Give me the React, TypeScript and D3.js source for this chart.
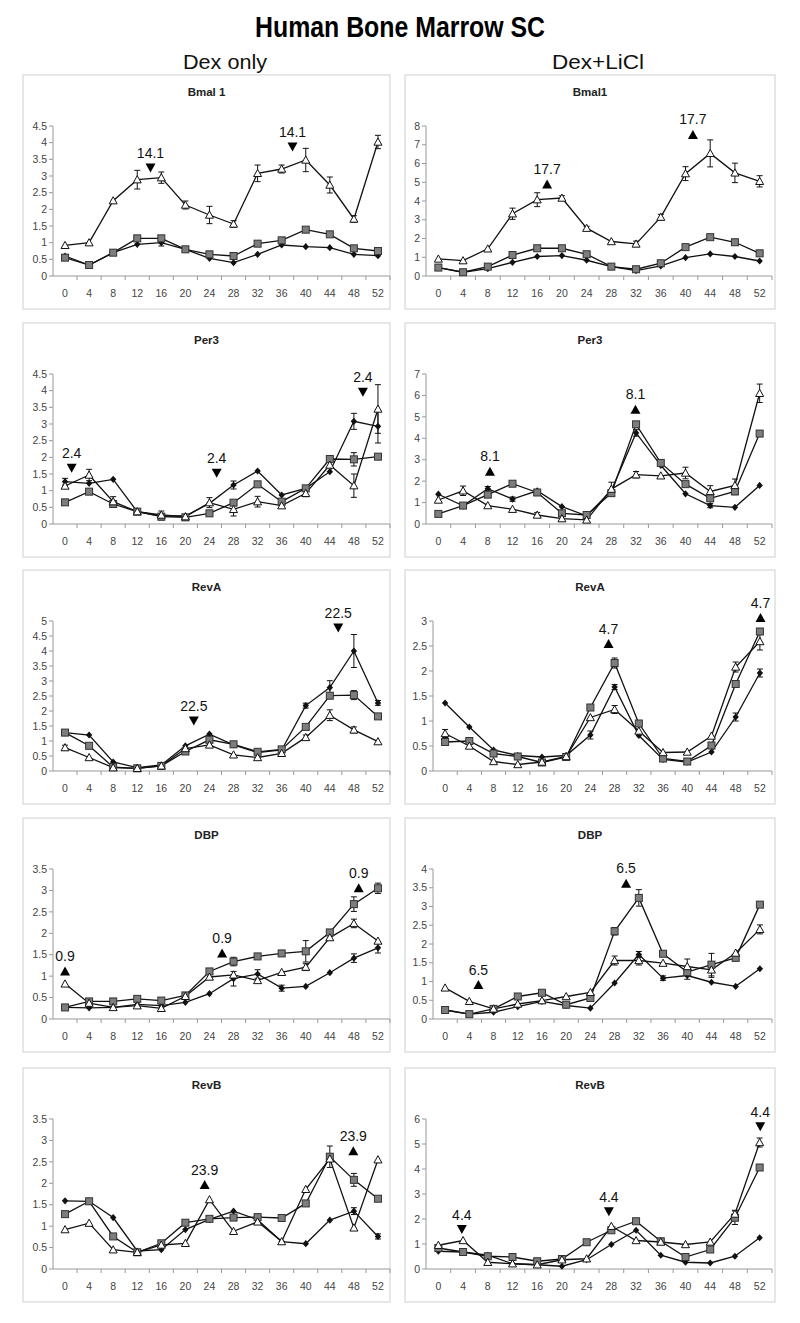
import React from "react"
import * as d3 from "d3"

const hours = [0, 4, 8, 12, 16, 20, 24, 28, 32, 36, 40, 44, 48, 52]

// Bmal1, Dex only
const bmalDexDiamond = [0.6, 0.33, 0.7, 0.95, 1.0, 0.8, 0.53, 0.4, 0.65, 0.93, 0.88, 0.85, 0.65, 0.61]
const bmalDexDiamondErr = [0, 0, 0, 0, 0.1, 0, 0, 0, 0, 0, 0, 0, 0, 0]
const bmalDexSquare = [0.55, 0.33, 0.7, 1.13, 1.13, 0.8, 0.65, 0.6, 0.97, 1.07, 1.39, 1.25, 0.83, 0.75]
const bmalDexSquareErr = [0, 0, 0, 0, 0, 0, 0, 0, 0, 0, 0, 0, 0, 0]
const bmalDexTriangle = [0.92, 1.0, 2.26, 2.89, 2.95, 2.13, 1.83, 1.56, 3.08, 3.21, 3.48, 2.73, 1.71, 4.02]
const bmalDexTriangleErr = [0, 0, 0, 0.28, 0.17, 0.12, 0.26, 0.1, 0.25, 0.12, 0.35, 0.24, 0.1, 0.2]
const bmalDexMarks = [
  { h: 14.2, v: 3.24, label: "14.1", dir: "down" },
  { h: 37.8, v: 3.87, label: "14.1", dir: "down" },
]

// Bmal1, Dex+LiCl
const bmalLiDiamond = [0.45, 0.2, 0.39, 0.73, 1.04, 1.09, 0.84, 0.5, 0.29, 0.54, 0.98, 1.18, 1.04, 0.8]
const bmalLiDiamondErr = [0, 0, 0, 0, 0, 0, 0, 0, 0, 0, 0, 0, 0, 0]
const bmalLiSquare = [0.45, 0.2, 0.5, 1.12, 1.48, 1.48, 1.16, 0.5, 0.36, 0.68, 1.54, 2.07, 1.8, 1.21]
const bmalLiSquareErr = [0, 0, 0, 0, 0, 0, 0, 0, 0, 0, 0, 0, 0, 0]
const bmalLiTriangle = [0.91, 0.82, 1.45, 3.32, 4.07, 4.16, 2.55, 1.84, 1.71, 3.14, 5.46, 6.54, 5.5, 5.05]
const bmalLiTriangleErr = [0, 0, 0, 0.3, 0.37, 0.12, 0.1, 0, 0.15, 0.15, 0.37, 0.72, 0.52, 0.3]
const bmalLiMarks = [
  { h: 17.6, v: 4.91, label: "17.7", dir: "up" },
  { h: 41.2, v: 7.55, label: "17.7", dir: "up" },
]

// Per3, Dex only
const per3DexDiamond = [1.27, 1.22, 1.34, 0.37, 0.24, 0.24, 0.62, 1.17, 1.59, 0.87, 1.07, 1.57, 3.08, 2.93]
const per3DexDiamondErr = [0.1, 0, 0, 0, 0, 0, 0, 0.12, 0, 0, 0, 0, 0.24, 0.5]
const per3DexSquare = [0.65, 0.97, 0.6, 0.37, 0.22, 0.2, 0.32, 0.64, 1.19, 0.67, 1.07, 1.95, 1.94, 2.02]
const per3DexSquareErr = [0, 0, 0, 0, 0.1, 0, 0, 0, 0, 0, 0, 0, 0.2, 0]
const per3DexTriangle = [1.14, 1.47, 0.67, 0.37, 0.27, 0.22, 0.64, 0.44, 0.67, 0.55, 0.92, 1.77, 1.15, 3.45]
const per3DexTriangleErr = [0, 0.17, 0.15, 0, 0.12, 0, 0.15, 0.2, 0.16, 0, 0.1, 0, 0.35, 0.73]
const per3DexMarks = [
  { h: 1.1, v: 1.67, label: "2.4", dir: "down" },
  { h: 25.2, v: 1.52, label: "2.4", dir: "down" },
  { h: 49.5, v: 3.95, label: "2.4", dir: "down" },
]

// Per3, Dex+LiCl
const per3LiDiamond = [1.39, 0.85, 1.65, 1.16, 1.55, 0.81, 0.38, 1.56, 4.25, 2.74, 1.41, 0.86, 0.78, 1.8]
const per3LiDiamondErr = [0, 0, 0.1, 0.1, 0, 0, 0, 0, 0.15, 0, 0, 0.1, 0, 0]
const per3LiSquare = [0.47, 0.86, 1.37, 1.88, 1.47, 0.5, 0.42, 1.44, 4.65, 2.85, 1.86, 1.2, 1.52, 4.22]
const per3LiSquareErr = [0, 0, 0, 0, 0, 0, 0, 0, 0, 0, 0, 0, 0.15, 0]
const per3LiTriangle = [1.12, 1.55, 0.86, 0.69, 0.42, 0.25, 0.19, 1.63, 2.3, 2.25, 2.38, 1.52, 1.8, 6.1]
const per3LiTriangleErr = [0, 0.22, 0, 0, 0.12, 0.1, 0, 0.32, 0.15, 0, 0.27, 0.27, 0.3, 0.43]
const per3LiMarks = [
  { h: 8.35, v: 2.46, label: "8.1", dir: "up" },
  { h: 31.9, v: 5.35, label: "8.1", dir: "up" },
]

// RevA, Dex only
const revADexDiamond = [1.28, 1.2, 0.3, 0.11, 0.2, 0.84, 1.23, 0.87, 0.61, 0.7, 2.18, 2.78, 4.0, 2.27]
const revADexDiamondErr = [0, 0, 0, 0, 0, 0, 0, 0, 0, 0, 0.08, 0.23, 0.55, 0.08]
const revADexSquare = [1.28, 0.84, 0.13, 0.09, 0.17, 0.65, 1.04, 0.89, 0.64, 0.72, 1.47, 2.51, 2.53, 1.82]
const revADexSquareErr = [0, 0, 0, 0, 0, 0, 0, 0, 0, 0, 0, 0, 0.15, 0]
const revADexTriangle = [0.78, 0.45, 0.11, 0.09, 0.17, 0.75, 0.87, 0.54, 0.45, 0.59, 1.12, 1.86, 1.37, 0.98]
const revADexTriangleErr = [0.08, 0, 0, 0, 0, 0, 0, 0, 0, 0, 0.08, 0.18, 0.1, 0]
const revADexMarks = [
  { h: 21.4, v: 1.67, label: "22.5", dir: "down" },
  { h: 45.4, v: 4.77, label: "22.5", dir: "down" },
]

// RevA, Dex+LiCl
const revALiDiamond = [1.36, 0.88, 0.42, 0.31, 0.28, 0.31, 0.72, 1.68, 0.71, 0.23, 0.18, 0.38, 1.08, 1.96]
const revALiDiamondErr = [0, 0, 0, 0, 0, 0, 0.08, 0.05, 0, 0, 0, 0, 0.08, 0.08]
const revALiSquare = [0.58, 0.6, 0.35, 0.29, 0.17, 0.28, 1.27, 2.16, 0.95, 0.25, 0.19, 0.51, 1.74, 2.79]
const revALiSquareErr = [0, 0, 0, 0, 0, 0, 0, 0.1, 0, 0, 0, 0, 0, 0]
const revALiTriangle = [0.75, 0.5, 0.19, 0.13, 0.18, 0.29, 1.07, 1.23, 0.8, 0.37, 0.38, 0.7, 2.08, 2.59]
const revALiTriangleErr = [0.08, 0, 0, 0, 0, 0, 0, 0.08, 0, 0, 0, 0, 0.1, 0.17]
const revALiMarks = [
  { h: 27, v: 2.55, label: "4.7", dir: "up" },
  { h: 52.1, v: 3.07, label: "4.7", dir: "up" },
]

// DBP, Dex only
const dbpDexDiamond = [0.27, 0.26, 0.27, 0.34, 0.31, 0.39, 0.59, 0.94, 1.05, 0.72, 0.76, 1.08, 1.42, 1.66]
const dbpDexDiamondErr = [0, 0, 0, 0, 0, 0, 0, 0.17, 0.1, 0.07, 0, 0, 0.1, 0.12]
const dbpDexSquare = [0.27, 0.41, 0.41, 0.47, 0.43, 0.55, 1.11, 1.34, 1.46, 1.53, 1.58, 2.02, 2.68, 3.05]
const dbpDexSquareErr = [0, 0, 0, 0, 0, 0, 0, 0.1, 0, 0, 0.25, 0, 0.17, 0.12]
const dbpDexTriangle = [0.82, 0.37, 0.27, 0.31, 0.25, 0.53, 0.98, 1.03, 0.9, 1.09, 1.21, 1.9, 2.23, 1.82]
const dbpDexTriangleErr = [0, 0, 0, 0, 0, 0, 0, 0, 0, 0, 0.08, 0, 0.1, 0]
const dbpDexMarks = [
  { h: 0, v: 1.12, label: "0.9", dir: "up" },
  { h: 26.1, v: 1.54, label: "0.9", dir: "up" },
  { h: 48.8, v: 3.06, label: "0.9", dir: "up" },
]

// DBP, Dex+LiCl
const dbpLiDiamond = [0.24, 0.13, 0.18, 0.33, 0.47, 0.36, 0.29, 0.96, 1.72, 1.09, 1.16, 0.98, 0.87, 1.34]
const dbpLiDiamondErr = [0, 0, 0, 0, 0, 0, 0, 0, 0.08, 0.06, 0.1, 0, 0, 0]
const dbpLiSquare = [0.24, 0.13, 0.27, 0.6, 0.7, 0.38, 0.56, 2.34, 3.23, 1.74, 1.25, 1.45, 1.63, 3.05]
const dbpLiSquareErr = [0, 0, 0, 0, 0, 0, 0, 0.1, 0.22, 0, 0, 0.3, 0, 0]
const dbpLiTriangle = [0.83, 0.47, 0.27, 0.4, 0.49, 0.6, 0.71, 1.56, 1.56, 1.49, 1.4, 1.31, 1.76, 2.39]
const dbpLiTriangleErr = [0, 0, 0, 0, 0, 0, 0, 0.12, 0.12, 0, 0.2, 0.2, 0, 0.12]
const dbpLiMarks = [
  { h: 5.5, v: 0.92, label: "6.5", dir: "up" },
  { h: 29.9, v: 3.62, label: "6.5", dir: "up" },
]

// RevB, Dex only
const revBDexDiamond = [1.59, 1.58, 1.2, 0.42, 0.45, 0.92, 1.16, 1.35, 1.15, 0.64, 0.59, 1.14, 1.35, 0.76]
const revBDexDiamondErr = [0, 0, 0, 0, 0, 0, 0, 0, 0, 0, 0, 0, 0.08, 0.06]
const revBDexSquare = [1.28, 1.58, 0.76, 0.39, 0.6, 1.08, 1.17, 1.2, 1.21, 1.19, 1.53, 2.62, 2.08, 1.64]
const revBDexSquareErr = [0, 0, 0, 0, 0, 0, 0, 0, 0, 0, 0, 0.25, 0.15, 0]
const revBDexTriangle = [0.92, 1.07, 0.45, 0.39, 0.56, 0.6, 1.62, 0.88, 1.1, 0.64, 1.86, 2.57, 0.96, 2.55]
const revBDexTriangleErr = [0, 0, 0, 0, 0, 0, 0, 0, 0, 0, 0, 0, 0, 0]
const revBDexMarks = [
  { h: 23.2, v: 1.97, label: "23.9", dir: "up" },
  { h: 47.9, v: 2.76, label: "23.9", dir: "up" },
]

// RevB, Dex+LiCl
const revBLiDiamond = [0.71, 0.68, 0.55, 0.21, 0.17, 0.11, 0.37, 0.98, 1.55, 0.55, 0.27, 0.24, 0.51, 1.25]
const revBLiDiamondErr = [0, 0, 0, 0, 0, 0, 0, 0, 0, 0, 0, 0, 0, 0]
const revBLiSquare = [0.84, 0.68, 0.51, 0.48, 0.31, 0.4, 1.07, 1.55, 1.91, 1.11, 0.48, 0.78, 2.05, 4.06]
const revBLiSquareErr = [0, 0, 0, 0, 0, 0, 0, 0, 0, 0, 0, 0, 0.27, 0]
const revBLiTriangle = [0.95, 1.14, 0.27, 0.21, 0.17, 0.37, 0.41, 1.71, 1.14, 1.08, 0.98, 1.08, 2.2, 5.06]
const revBLiTriangleErr = [0, 0, 0, 0, 0, 0, 0, 0, 0, 0, 0, 0, 0.15, 0.18]
const revBLiMarks = [
  { h: 3.8, v: 1.58, label: "4.4", dir: "down" },
  { h: 27.6, v: 2.29, label: "4.4", dir: "down" },
  { h: 52.1, v: 5.69, label: "4.4", dir: "down" },
]

const panels = [
  { title: "Bmal 1", row: 0, col: 0, yMax: 4.5, step: 0.5, d: bmalDexDiamond, de: bmalDexDiamondErr, s: bmalDexSquare, se: bmalDexSquareErr, t: bmalDexTriangle, te: bmalDexTriangleErr, marks: bmalDexMarks },
  { title: "Bmal1", row: 0, col: 1, yMax: 8, step: 1, d: bmalLiDiamond, de: bmalLiDiamondErr, s: bmalLiSquare, se: bmalLiSquareErr, t: bmalLiTriangle, te: bmalLiTriangleErr, marks: bmalLiMarks },
  { title: "Per3", row: 1, col: 0, yMax: 4.5, step: 0.5, d: per3DexDiamond, de: per3DexDiamondErr, s: per3DexSquare, se: per3DexSquareErr, t: per3DexTriangle, te: per3DexTriangleErr, marks: per3DexMarks },
  { title: "Per3", row: 1, col: 1, yMax: 7, step: 1, d: per3LiDiamond, de: per3LiDiamondErr, s: per3LiSquare, se: per3LiSquareErr, t: per3LiTriangle, te: per3LiTriangleErr, marks: per3LiMarks },
  { title: "RevA", row: 2, col: 0, yMax: 5, step: 0.5, d: revADexDiamond, de: revADexDiamondErr, s: revADexSquare, se: revADexSquareErr, t: revADexTriangle, te: revADexTriangleErr, marks: revADexMarks },
  { title: "RevA", row: 2, col: 1, yMax: 3, step: 0.5, d: revALiDiamond, de: revALiDiamondErr, s: revALiSquare, se: revALiSquareErr, t: revALiTriangle, te: revALiTriangleErr, marks: revALiMarks },
  { title: "DBP", row: 3, col: 0, yMax: 3.5, step: 0.5, d: dbpDexDiamond, de: dbpDexDiamondErr, s: dbpDexSquare, se: dbpDexSquareErr, t: dbpDexTriangle, te: dbpDexTriangleErr, marks: dbpDexMarks },
  { title: "DBP", row: 3, col: 1, yMax: 4, step: 0.5, d: dbpLiDiamond, de: dbpLiDiamondErr, s: dbpLiSquare, se: dbpLiSquareErr, t: dbpLiTriangle, te: dbpLiTriangleErr, marks: dbpLiMarks },
  { title: "RevB", row: 4, col: 0, yMax: 3.5, step: 0.5, d: revBDexDiamond, de: revBDexDiamondErr, s: revBDexSquare, se: revBDexSquareErr, t: revBDexTriangle, te: revBDexTriangleErr, marks: revBDexMarks },
  { title: "RevB", row: 4, col: 1, yMax: 6, step: 1, d: revBLiDiamond, de: revBLiDiamondErr, s: revBLiSquare, se: revBLiSquareErr, t: revBLiTriangle, te: revBLiTriangleErr, marks: revBLiMarks },
]

const rowTops = [75, 323, 570, 818, 1068]
const cols = [
  { box: 23, boxRight: 390, plotRight: 390 },
  { box: 405, boxRight: 775, plotRight: 772 },
]
const FONT = "'Liberation Sans', Arial, Helvetica, sans-serif"
const INK = "#111"

function Panel({ p }: { p: any }) {
  const top = rowTops[p.row]
  const col = cols[p.col]
  const plotTop = top + 51
  const plotBottom = top + 201
  const decimals = p.step < 1
  const axisX = p.col === 0 ? 53 : decimals ? 433 : 426

  const x = d3.scaleBand<number>().domain(hours).range([axisX, col.plotRight])
  const xc = (h: number) => (x(h) as number) + x.bandwidth() / 2
  const xh = d3.scaleLinear().domain([0, 52]).range([xc(0), xc(52)])
  const y = d3.scaleLinear().domain([0, p.yMax]).range([plotBottom, plotTop])
  const yTicks = d3.range(0, p.yMax + p.step / 2, p.step)

  const line = d3.line<number>().x((_, i) => xc(hours[i])).y((v) => y(v))

  const errBars = (vals: number[], errs: number[]) =>
    vals.map((v, i) => {
      const e = errs[i]
      if (!e) return null
      const cx = xc(hours[i])
      return (
        <g key={i} stroke={INK} strokeWidth={1}>
          <line x1={cx} x2={cx} y1={y(v - e)} y2={y(v + e)} />
          <line x1={cx - 3} x2={cx + 3} y1={y(v - e)} y2={y(v - e)} />
          <line x1={cx - 3} x2={cx + 3} y1={y(v + e)} y2={y(v + e)} />
        </g>
      )
    })

  return (
    <g>
      <rect x={col.box} y={top} width={col.boxRight - col.box} height={234} fill="white" stroke="#cfcfcf" strokeWidth={1} />
      <text x={(col.box + col.boxRight) / 2} y={top + 21} textAnchor="middle" fontFamily={FONT} fontWeight="bold" fontSize={11.5} fill="#222">
        {p.title}
      </text>

      {/* y axis */}
      <line x1={axisX} x2={axisX} y1={plotTop} y2={plotBottom} stroke="#999" />
      {yTicks.map((t: number) => (
        <g key={t}>
          <line x1={axisX - 4} x2={axisX} y1={y(t)} y2={y(t)} stroke="#999" />
          <text x={axisX - 6} y={y(t)} dy="0.35em" textAnchor="end" fontFamily={FONT} fontSize={10.5} fill="#444">
            {String(+t.toFixed(1))}
          </text>
        </g>
      ))}

      {/* x axis */}
      <line x1={axisX} x2={col.plotRight} y1={plotBottom} y2={plotBottom} stroke="#999" />
      {hours.map((h) => (
        <g key={h}>
          <line x1={(x(h) as number) + x.bandwidth()} x2={(x(h) as number) + x.bandwidth()} y1={plotBottom} y2={plotBottom + 4} stroke="#999" />
          <text x={xc(h)} y={plotBottom + 21} textAnchor="middle" fontFamily={FONT} fontSize={10.5} fill="#444">
            {h}
          </text>
        </g>
      ))}

      {/* series lines */}
      <path d={line(p.d) as string} fill="none" stroke={INK} strokeWidth={1.3} />
      <path d={line(p.s) as string} fill="none" stroke={INK} strokeWidth={1.3} />
      <path d={line(p.t) as string} fill="none" stroke={INK} strokeWidth={1.3} />

      {errBars(p.d, p.de)}
      {errBars(p.s, p.se)}
      {errBars(p.t, p.te)}

      {/* markers */}
      {p.d.map((v: number, i: number) => {
        const cx = xc(hours[i])
        const cy = y(v)
        return <path key={"d" + i} d={`M${cx},${cy - 3.6}L${cx + 3.2},${cy}L${cx},${cy + 3.6}L${cx - 3.2},${cy}Z`} fill={INK} />
      })}
      {p.s.map((v: number, i: number) => (
        <rect key={"s" + i} x={xc(hours[i]) - 3.5} y={y(v) - 3.5} width={7} height={7} fill="#7d7d7d" stroke="#333" strokeWidth={1} />
      ))}
      {p.t.map((v: number, i: number) => {
        const cx = xc(hours[i])
        const cy = y(v)
        return <path key={"t" + i} d={`M${cx},${cy - 4}L${cx + 4},${cy + 3.2}L${cx - 4},${cy + 3.2}Z`} fill="white" stroke={INK} strokeWidth={1} />
      })}

      {/* phase annotations */}
      {p.marks.map((m: any, i: number) => {
        const cx = xh(m.h)
        const cy = y(m.v)
        const tri =
          m.dir === "down"
            ? `M${cx - 5},${cy - 4.5}L${cx + 5},${cy - 4.5}L${cx},${cy + 4.5}Z`
            : `M${cx},${cy - 4.5}L${cx + 5},${cy + 4.5}L${cx - 5},${cy + 4.5}Z`
        return (
          <g key={"m" + i}>
            <path d={tri} fill="black" />
            <text x={cx} y={cy - 10} textAnchor="middle" fontFamily={FONT} fontSize={14} fill="#111">
              {m.label}
            </text>
          </g>
        )
      })}
    </g>
  )
}

export default function App() {
  return (
    <svg
      width={800}
      height={1323}
      viewBox="0 0 800 1323"
      style={{ position: "absolute", left: 0, top: 0, background: "white" }}
    >
      <rect x={0} y={0} width={800} height={1323} fill="white" />
      <text x={400} y={37} textAnchor="middle" fontFamily={FONT} fontWeight="bold" fontSize={29} textLength={290} lengthAdjust="spacingAndGlyphs" fill="#000">
        Human Bone Marrow SC
      </text>
      <text x={225} y={69} textAnchor="middle" fontFamily={FONT} fontSize={21} textLength={84} lengthAdjust="spacingAndGlyphs" fill="#111">
        Dex only
      </text>
      <text x={598} y={69} textAnchor="middle" fontFamily={FONT} fontSize={21} textLength={92} lengthAdjust="spacingAndGlyphs" fill="#111">
        Dex+LiCl
      </text>
      {panels.map((p, i) => (
        <Panel key={i} p={p} />
      ))}
    </svg>
  )
}
